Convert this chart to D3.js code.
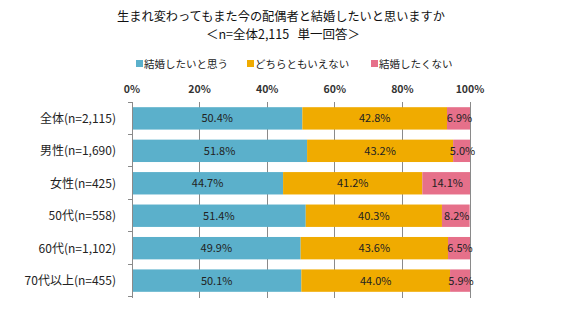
<!DOCTYPE html>
<html>
<head>
<meta charset="utf-8">
<script src="https://cdn.jsdelivr.net/npm/d3@7"></script>
<style>
  body { margin: 0; background: #fff; }
  text { font-family: "Noto Sans CJK JP", sans-serif; }
</style>
</head>
<body>
<svg id="chart" width="564" height="329"></svg>
<script>
const categories = ["全体(n=2,115)", "男性(n=1,690)", "女性(n=425)", "50代(n=558)", "60代(n=1,102)", "70代以上(n=455)"];
const seriesNames = ["結婚したいと思う", "どちらともいえない", "結婚したくない"];
const want = [50.4, 51.8, 44.7, 51.4, 49.9, 50.1];
const neither = [42.8, 43.2, 41.2, 40.3, 43.6, 44.0];
const notWant = [6.9, 5.0, 14.1, 8.2, 6.5, 5.9];
const ticks = [0, 20, 40, 60, 80, 100];
const colors = ["#5BB0CB", "#F0AB00", "#E6708A"];

const svg = d3.select("#chart");
const plotL = 132, plotR = 470, plotT = 102, plotB = 297;

const x = d3.scaleLinear().domain([0, 100]).range([plotL, plotR]);
const y = d3.scaleBand().domain(categories).range([plotT, plotB]).paddingInner(0.31).paddingOuter(0.16);

// title
svg.append("text").attr("x", 281).attr("y", 21).attr("text-anchor", "middle")
  .attr("font-size", 12.2).attr("fill", "#111")
  .text("生まれ変わってもまた今の配偶者と結婚したいと思いますか");
svg.append("text").attr("x", 283).attr("y", 39).attr("text-anchor", "middle")
  .attr("font-size", 12.5).attr("fill", "#111")
  .attr("xml:space", "preserve")
  .text("＜n=全体2,115   単一回答＞");

// legend
const legendX = [136, 247, 371];
seriesNames.forEach((name, i) => {
  svg.append("rect").attr("x", legendX[i]).attr("y", 60).attr("width", 7).attr("height", 7).attr("fill", colors[i]);
  svg.append("text").attr("x", legendX[i] + 8).attr("y", 67.5).attr("font-size", 10.5)
    .attr("fill", "#222").text(name);
});

// gridlines
svg.append("g").selectAll("line").data(ticks.slice(1)).join("line")
  .attr("x1", d => x(d)).attr("x2", d => x(d))
  .attr("y1", plotT).attr("y2", plotB + 1)
  .attr("stroke", "#8a8a8a").attr("stroke-width", 1).attr("shape-rendering", "crispEdges");

// top tick labels
svg.append("g").selectAll("text").data(ticks).join("text")
  .attr("x", d => x(d)).attr("y", 93).attr("text-anchor", "middle")
  .attr("font-family", "'Liberation Sans', sans-serif").attr("font-weight", "bold")
  .attr("font-size", 10.5).attr("fill", "#333")
  .text(d => d + "%");

// stacked bars
const rows = categories.map((c, i) => ({ cat: c, vals: [want[i], neither[i], notWant[i]] }));
rows.forEach(r => {
  let acc = 0;
  r.vals.forEach((v, j) => {
    const x0 = acc;
    acc += v;
    svg.append("rect")
      .attr("x", x(x0)).attr("y", y(r.cat))
      .attr("width", x(Math.min(acc, 100)) - x(x0)).attr("height", y.bandwidth())
      .attr("fill", colors[j]);
    svg.append("text")
      .attr("x", (x(x0) + x(Math.min(acc, 100))) / 2 + (j === 2 ? 1 : 0))
      .attr("y", y(r.cat) + y.bandwidth() / 2 + 4)
      .attr("text-anchor", "middle")
      .attr("font-family", "'Liberation Sans', sans-serif")
      .attr("font-size", 11).attr("fill", "#222")
      .text(v.toFixed(1) + "%");
  });
});

// left axis
svg.append("line").attr("x1", plotL).attr("x2", plotL).attr("y1", plotT).attr("y2", plotB + 1)
  .attr("stroke", "#8a8a8a").attr("shape-rendering", "crispEdges");
const bounds = d3.range(categories.length + 1).map(i => plotT + i * y.step());
svg.append("g").selectAll("line").data(bounds).join("line")
  .attr("x1", plotL - 4).attr("x2", plotL)
  .attr("y1", d => d).attr("y2", d => d)
  .attr("stroke", "#8a8a8a").attr("shape-rendering", "crispEdges");

// category labels
svg.append("g").selectAll("text").data(categories).join("text")
  .attr("x", 116).attr("y", d => y(d) + y.bandwidth() / 2 + 4.5)
  .attr("text-anchor", "end").attr("font-size", 12).attr("fill", "#222")
  .text(d => d);
</script>
</body>
</html>
